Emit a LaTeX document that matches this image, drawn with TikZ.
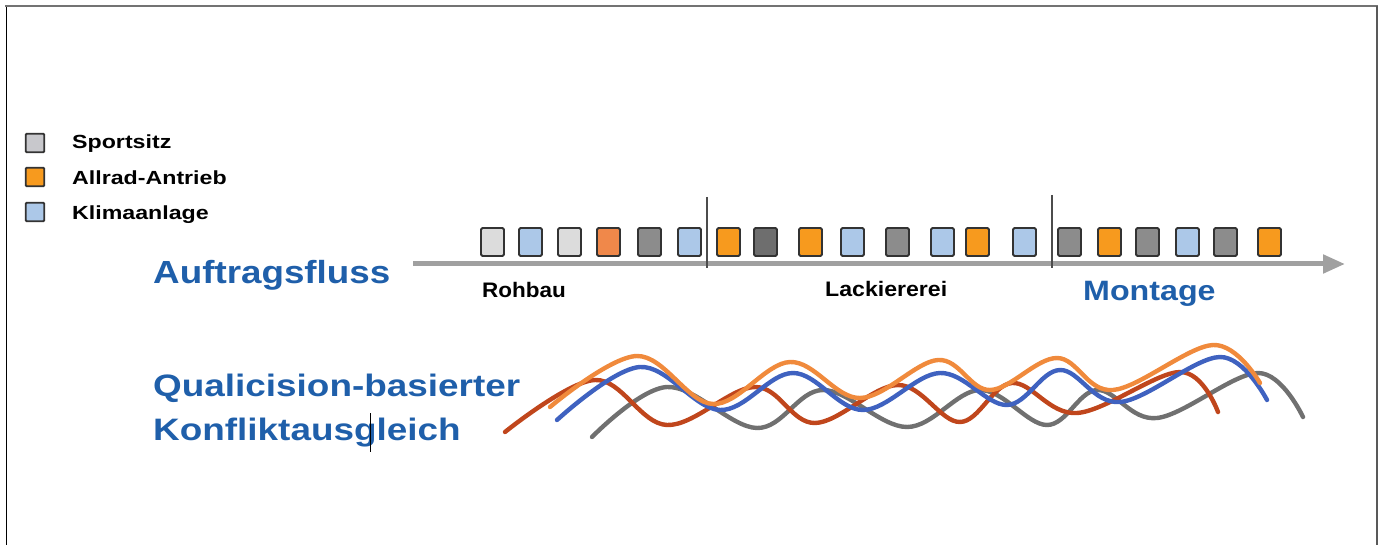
\documentclass[tikz,border=0pt]{standalone}
\usepackage{fontspec}
\setmainfont{Liberation Sans}
\usetikzlibrary{arrows.meta}
\definecolor{sqborder}{HTML}{333333}
\definecolor{ltgray}{HTML}{DCDCDC}
\definecolor{sportgray}{HTML}{C8C8CC}
\definecolor{midgray}{HTML}{8C8C8C}
\definecolor{dkgray}{HTML}{6E6E6E}
\definecolor{ltblue}{HTML}{ACC8E8}
\definecolor{orng}{HTML}{F79A1E}
\definecolor{salmon}{HTML}{F0884A}
\definecolor{txtblue}{HTML}{1F5FAA}
\definecolor{arrowgray}{HTML}{A0A0A0}
\definecolor{wvorange}{HTML}{F08A3C}
\definecolor{wvblue}{HTML}{3F62C0}
\definecolor{wvred}{HTML}{C0461C}
\definecolor{wvgray}{HTML}{707070}
\newcommand\hsc[2]{\scalebox{#1}[1]{#2}}
\begin{document}
\begin{tikzpicture}[x=1pt,y=-1pt,
  legsq/.style={draw=sqborder, line width=1.8pt, minimum width=18.5pt, minimum height=18.5pt, inner sep=0pt, rounded corners=1pt},
  rowsq/.style={draw=sqborder, line width=1.8pt, minimum width=23pt, minimum height=28pt, inner sep=0pt, rounded corners=1.5pt},
  legtxt/.style={anchor=base west, inner sep=0pt, font=\fontsize{19}{19}\selectfont\bfseries},
  stagetxt/.style={anchor=base west, inner sep=0pt, font=\fontsize{21}{21}\selectfont\bfseries},
  bluetxt/.style={anchor=base west, inner sep=0pt, text=txtblue, font=\fontsize{31}{31}\selectfont\bfseries},
  sep/.style={draw=black!70, line width=1.2pt},
  wave/.style={line width=4.4pt, line cap=round, line join=round}
]
\useasboundingbox (0,0) rectangle (1385,545);
% frame
\draw[black, line width=1pt] (6,7) -- (6,545);
\draw[black!55, line width=2.6pt] (5,6) -- (1378,6);
\draw[black!65, line width=2pt] (1377,6) -- (1377,545);

% legend
\node[legsq, fill=sportgray] (l1) at (35,143) {};
\node[legsq, fill=orng] (l2) at (35,177) {};
\node[legsq, fill=ltblue] (l3) at (35,212) {};
\node[legtxt] (t1) at (72,149) {\hsc{1.22}{Sportsitz}};
\node[legtxt] (t2) at (72,185) {\hsc{1.22}{Allrad-Antrieb}};
\node[legtxt] (t3) at (72,220) {\hsc{1.22}{Klimaanlage}};

% flow arrow
\coordinate (as) at (413,264);
\coordinate (ae) at (1345,264);
\draw[arrowgray, line width=5pt, -{Triangle[length=22pt,width=18pt]}] (as) -- (ae);

% separators
\coordinate (p1a) at (707,197); \coordinate (p1b) at (707,268);
\coordinate (p2a) at (1052,195); \coordinate (p2b) at (1052,268);
\draw[sep] (p1a) -- (p1b);
\draw[sep] (p2a) -- (p2b);

% squares
\foreach \x/\c [count=\i] in {480/ltgray,518/ltblue,557/ltgray,596/salmon,637/midgray,677/ltblue,716/orng,753/dkgray,798/orng,840/ltblue,885/midgray,930/ltblue,965/orng,1012/ltblue,1057/midgray,1097/orng,1135/midgray,1175/ltblue,1213/midgray,1257/orng}
  \node[rowsq, fill=\c] (s\i) at (\x+12.5,242) {};

% labels
\node[bluetxt, font=\fontsize{32}{32}\selectfont\bfseries] (auf) at (153,284) {\hsc{1.15}{Auftragsfluss}};
\node[stagetxt] (roh) at (482,298) {\hsc{1.07}{Rohbau}};
\node[stagetxt] (lack) at (825,297) {\hsc{1.1}{Lackiererei}};
\node[bluetxt, font=\fontsize{28}{28}\selectfont\bfseries] (mon) at (1083,301) {\hsc{1.15}{Montage}};
\node[bluetxt] (q1) at (153,397) {\hsc{1.19}{Qualicision-basierter}};
\node[bluetxt] (q2) at (153,440) {\hsc{1.19}{Konfliktausgleich}};
\draw[black, line width=1pt] (370,413) -- (370,452);

% waves
\draw[wave, wvgray] plot[smooth, tension=0.6] coordinates {(592,437) (667,387) (757,428) (823,390) (907,427) (980,390) (1047,425) (1097,390) (1157,418) (1258,373) (1303,417)};
\draw[wave, wvred] plot[smooth, tension=0.6] coordinates {(505,432) (595,380) (667,425) (755,387) (815,423) (898,385) (960,422) (1012,383) (1077,413) (1180,372) (1218,412)};
\draw[wave, wvblue] plot[smooth, tension=0.6] coordinates {(557,420) (640,367) (720,410) (793,373) (863,410) (940,373) (1007,405) (1060,370) (1120,402) (1220,357) (1267,400)};
\draw[wave, wvorange] plot[smooth, tension=0.6] coordinates {(550,407) (637,356) (713,404) (790,362) (860,398) (938,360) (990,390) (1057,358) (1113,390) (1213,345) (1260,383)};
\end{tikzpicture}
\end{document}
